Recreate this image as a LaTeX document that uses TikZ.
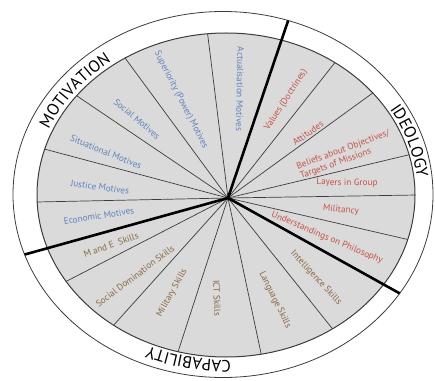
\documentclass[tikz,border=0pt]{standalone}
\usepackage{fontspec}
\setmainfont{PT Sans}
\usetikzlibrary{calc,decorations.text}
\definecolor{motblue}{RGB}{95,130,190}
\definecolor{ideored}{RGB}{196,82,72}
\definecolor{capbrown}{RGB}{135,104,66}
\definecolor{sector}{RGB}{218,218,218}
\definecolor{rim}{RGB}{60,60,60}
\begin{document}
\begin{tikzpicture}[x=1pt,y=1pt,
  lbl/.style={font=\fontsize{9.2}{10.5}\selectfont, inner sep=0pt},
  motlbl/.style={lbl,text=motblue},
  idelbl/.style={lbl,text=ideored},
  caplbl/.style={lbl,text=capbrown},
  spoke/.style={draw=rim, line width=0.7pt},
  divider/.style={draw=black, line width=2.6pt},
  titlepath/.style={decorate, decoration={text along path, text align=center,
     text={|\fontsize{16.5}{16.5}\selectfont|#1}}}]
\useasboundingbox (0,0) rectangle (435,380);
\fill[white] (0,0) rectangle (435,380);
\coordinate (oc) at (223,185.5);
\coordinate (gc) at (226,185);
\coordinate (c) at (228,182);
% outer ring
\draw[draw=rim, line width=0.8pt] (oc) ellipse [x radius=210pt, y radius=183pt];
% sectors
\fill[sector] (gc) ellipse [x radius=189pt, y radius=162pt];
% spoke end points
\foreach \i/\px/\py in {1/208/343, 2/128/318, 3/80/282, 4/48/230, 5/37/178,
   7/65/98, 8/112/53, 9/177/25, 10/262/22, 11/335/48,
   13/410/140, 14/417/185, 15/408/225, 16/370/285, 17/333/315}
  \coordinate (p\i) at (\px,\py);
\coordinate (p6) at (23,125);
\coordinate (p12) at (408,82);
\coordinate (p18) at (289,362);
\begin{scope}
  \clip (gc) ellipse [x radius=189pt, y radius=162pt];
  \foreach \i in {1,2,3,4,5,7,8,9,10,11,13,14,15,16,17}
    \draw[spoke] (c) -- ($(c)!1.25!(p\i)$);
\end{scope}
\draw[draw=rim, line width=1pt] (gc) ellipse [x radius=189pt, y radius=162pt];
\begin{scope}
  \clip (oc) ellipse [x radius=210pt, y radius=183pt];
  \foreach \i in {6,12,18}
    \draw[divider] (c) -- ($(c)!1.2!(p\i)$);
\end{scope}
% titles on the ring
\path[titlepath=MOTIVATION] ($(gc)+(175:193pt and 166pt)$)
  arc[start angle=175, end angle=110, x radius=193pt, y radius=166pt];
\path[titlepath=IDEOLOGY] ($(gc)+(50:192pt and 165pt)$)
  arc[start angle=50, end angle=-14, x radius=192pt, y radius=165pt];
\path[titlepath=CAPABILITY] ($(gc)+(290:193pt and 165pt)$)
  arc[start angle=290, end angle=227, x radius=193pt, y radius=165pt];
% motivation labels
\node[motlbl, rotate=-91] (m1) at (240,291) {Actualisation Motives};
\node[motlbl, rotate=-63] (m2) at (181,280) {Superiority (Power) Motives};
\node[motlbl, rotate=-40] (m3) at (137,261) {Social Motives};
\node[motlbl, rotate=-22] (m4) at (106,228) {Situational Motives};
\node[motlbl, rotate=-8] (m5) at (100,193) {Justice Motives};
\node[motlbl, rotate=9] (m6) at (99,164) {Economic Motives};
% capability labels
\node[caplbl, rotate=20] (c1) at (111,135) {M and E\ \ Skills};
\node[caplbl, rotate=37] (c2) at (135,104) {Social Domination Skills};
\node[caplbl, rotate=61] (c3) at (172,87) {Military Skills};
\node[caplbl, rotate=-88] (c4) at (217,82) {ICT Skills};
\node[caplbl, rotate=-64] (c5) at (275,80) {Language Skills};
\node[caplbl, rotate=-47] (c6) at (316,102) {Intelligence Skills};
% ideology labels
\node[idelbl, rotate=-23] (i1) at (327,142) {Understandings on Philosophy};
\node[idelbl, rotate=-5] (i2) at (341,170) {Militancy};
\node[idelbl, rotate=-1] (i3) at (347,197) {Layers in Group};
\node[idelbl, rotate=20, align=left] (i4) at (345,225) {Beliefs about Objectives/\\Targets of Missions};
\node[idelbl, rotate=35] (i5) at (308,247) {Attitudes};
\node[idelbl, rotate=57] (i6) at (286,280) {Values (Doctrines)};
\end{tikzpicture}
\end{document}
